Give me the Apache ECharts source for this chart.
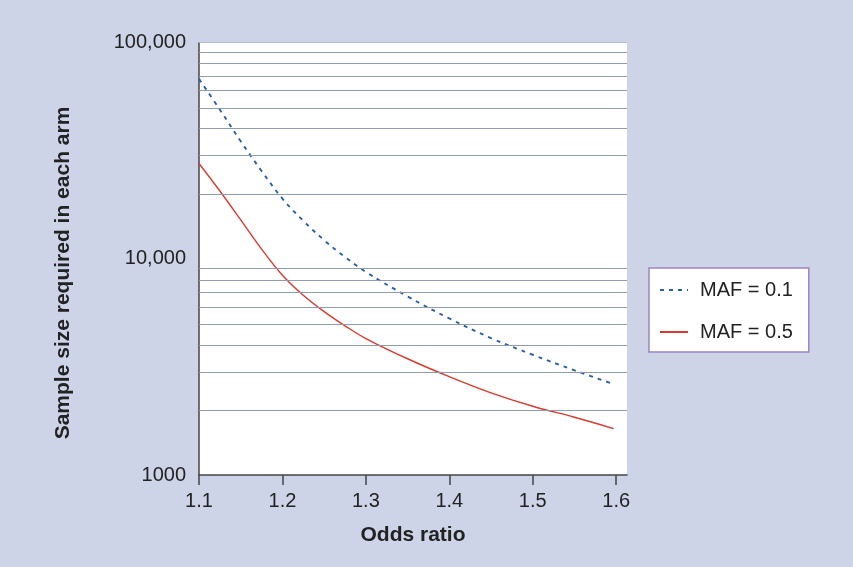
<!DOCTYPE html>
<html>
<head>
<meta charset="utf-8">
<script src="https://cdn.jsdelivr.net/npm/echarts@6/dist/echarts.min.js"></script>
<style>
html,body{margin:0;padding:0;background:#cdd4e8;}
#main{width:853px;height:567px;}
</style>
</head>
<body>
<div id="main"></div>
<script>
// Data
const seriesNames = ['MAF = 0.1', 'MAF = 0.5'];
const oddsMaf01 = [1.10, 1.125, 1.15, 1.175, 1.20, 1.225, 1.25, 1.275, 1.30, 1.35, 1.40, 1.45, 1.50, 1.55, 1.595];
const sizeMaf01 = [68000, 49000, 35000, 25500, 19000, 15000, 12200, 10200, 8700, 6700, 5300, 4300, 3600, 3050, 2650];
const oddsMaf05 = [1.10, 1.125, 1.15, 1.175, 1.20, 1.225, 1.25, 1.275, 1.30, 1.35, 1.40, 1.45, 1.50, 1.55, 1.597];
const sizeMaf05 = [27600, 20600, 15150, 11100, 8400, 6780, 5700, 4900, 4280, 3450, 2850, 2400, 2080, 1850, 1640];
const xTickValues = [1.1, 1.2, 1.3, 1.4, 1.5, 1.6];
const yTickValues = [1000, 10000, 100000];
const gridValues = [2000, 3000, 4000, 5000, 6000, 7000, 8000, 9000,
                    20000, 30000, 40000, 50000, 60000, 70000, 80000, 90000];
const topGridValue = [100000];
const xAxisTitle = 'Odds ratio';
const yAxisTitle = 'Sample size required in each arm';

const font = 'Liberation Sans, Arial, Helvetica, sans-serif';
const chart = echarts.init(document.getElementById('main'), null, {renderer: 'canvas'});

function pairs(xs, ys) { return xs.map((x, i) => [x, ys[i]]); }

chart.setOption({
  backgroundColor: '#cdd4e8',
  animation: false,
  grid: {
    left: 199, right: 226, top: 42.7, bottom: 92,
    show: true, backgroundColor: '#ffffff', borderWidth: 0
  },
  legend: {
    orient: 'vertical',
    left: 649, top: 268,
    padding: [12, 16, 10, 10],
    itemGap: 22,
    itemWidth: 28,
    itemHeight: 14,
    backgroundColor: '#ffffff',
    borderColor: '#9a84c4',
    borderWidth: 1.5,
    borderRadius: 0,
    itemStyle: {opacity: 0},
    textStyle: {fontFamily: font, fontSize: 20, color: '#222', padding: [0, 0, 0, 7]},
    data: seriesNames
  },
  xAxis: {
    type: 'value',
    min: 1.1, max: 1.613,
    name: xAxisTitle,
    nameLocation: 'middle',
    nameGap: 50,
    nameTextStyle: {fontFamily: font, fontSize: 21, fontWeight: 'bold', color: '#222'},
    axisLine: {show: true, onZero: false, lineStyle: {color: '#444', width: 1.5}},
    axisTick: {show: true, length: 10, customValues: xTickValues, lineStyle: {color: '#444', width: 1.5}},
    axisLabel: {
      customValues: xTickValues, margin: 16,
      fontFamily: font, fontSize: 20, color: '#222',
      formatter: v => v.toFixed(1)
    },
    splitLine: {show: false}
  },
  yAxis: {
    type: 'log',
    logBase: 10,
    min: 1000, max: 100000,
    axisLine: {show: true, lineStyle: {color: '#444', width: 1.5}},
    axisTick: {show: false, customValues: yTickValues},
    axisLabel: {
      customValues: yTickValues, margin: 13,
      fontFamily: font, fontSize: 20, color: '#222',
      formatter: v => v >= 10000 ? Math.round(v).toString().replace(/\B(?=(\d{3})+(?!\d))/g, ',') : String(Math.round(v))
    },
    splitLine: {show: false},
    minorSplitLine: {show: false}
  },
  graphic: [{
    type: 'text',
    x: 63.5, y: 273,
    rotation: Math.PI / 2,
    style: {
      text: yAxisTitle,
      fontFamily: font, fontSize: 21, fontWeight: 'bold', fill: '#222',
      align: 'center', verticalAlign: 'middle'
    }
  }],
  series: [
    {
      name: seriesNames[0],
      type: 'line',
      data: pairs(oddsMaf01, sizeMaf01),
      smooth: 0.4,
      symbol: 'none',
      z: 3,
      lineStyle: {color: '#2a5fa8', width: 1.9, type: [4, 5]},
      itemStyle: {color: '#2a5fa8'},
      markLine: {
        silent: true,
        symbol: 'none',
        label: {show: false},
        lineStyle: {color: '#8e9cac', width: 1, type: 'solid'},
        emphasis: {disabled: true},
        data: gridValues.map(v => ({yAxis: v}))
          .concat(topGridValue.map(v => ({yAxis: v, lineStyle: {color: '#b4bdca'}})))
      }
    },
    {
      name: seriesNames[1],
      type: 'line',
      data: pairs(oddsMaf05, sizeMaf05),
      smooth: 0.4,
      symbol: 'none',
      z: 3,
      lineStyle: {color: '#d9392e', width: 1.4, type: 'solid'},
      itemStyle: {color: '#d9392e'}
    }
  ]
});
</script>
</body>
</html>
